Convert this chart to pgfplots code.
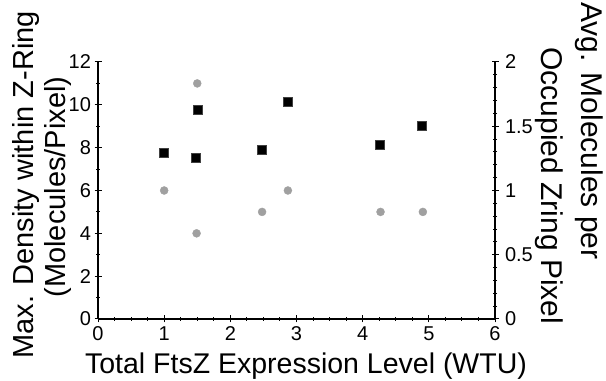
\documentclass[border=0pt]{standalone}
\usepackage{pgfplots}
\pgfplotsset{compat=1.18}
\usepackage{fontspec}
\setmainfont{Liberation Sans}
\definecolor{grayc}{RGB}{160,160,160}
\begin{document}
\begin{tikzpicture}
\useasboundingbox (0,0) rectangle (606bp,381bp);
\pgfplotsset{
 common/.style={
   at={(98bp,62bp)}, anchor=south west,
   width=397bp, height=257bp, scale only axis,
   xmin=0, xmax=6,
   tick label style={font=\fontsize{20bp}{23bp}\selectfont},
   /pgf/number format/assume math mode=true,
   major tick length=7bp, minor tick length=4bp,
   every tick/.style={black, line width=1bp},
   clip=false,
 },
 noarrows/.style={
   axis line style={line width=2bp, -},
   every outer x axis line/.append style={-},
   every outer y axis line/.append style={-},
   every inner x axis line/.append style={-},
   every inner y axis line/.append style={-},
 }
}
\begin{axis}[common, axis x line=bottom, axis y line=left, noarrows,
  ymin=0, ymax=12, xtick={0,1,2,3,4,5,6}, minor x tick num=3,
  ytick={0,2,4,6,8,10,12}, minor y tick num=1,
  xticklabel style={yshift=-1bp}]
\addplot[only marks, mark=*, mark size=4bp, color=grayc] coordinates {
 (1.0,6) (1.5,11) (1.49,4) (2.48,5) (2.87,6) (4.27,5) (4.91,5)};
\end{axis}
\begin{axis}[common, axis x line=none, axis y line=right, noarrows,
  ymin=0, ymax=2, ytick={0,0.5,1,1.5,2}, minor y tick num=4,
  yticklabel style={xshift=3bp}]
\addplot[only marks, mark=square*, mark size=4.5bp, black, mark options={draw=black!75, line width=0.6bp}] coordinates {
 (0.99,1.293) (1.48,1.255) (1.507,1.627) (2.48,1.32) (2.87,1.693) (4.26,1.355) (4.90,1.507)};
\end{axis}
\node[rotate=90, anchor=base, font=\fontsize{29bp}{34bp}\selectfont] at (33bp,196bp) {Max. Density within Z-Ring};
\node[rotate=90, anchor=base, font=\fontsize{29bp}{34bp}\selectfont] at (65bp,194bp) {(Molecules/Pixel)};
\node[rotate=-90, anchor=base, font=\fontsize{30bp}{34bp}\selectfont] at (581bp,250bp) {Avg. Molecules per};
\node[rotate=-90, anchor=base, font=\fontsize{30bp}{34bp}\selectfont] at (541bp,195bp) {Occupied Zring Pixel};
\node[anchor=base, font=\fontsize{28.5bp}{34bp}\selectfont] at (306bp,8bp) {Total FtsZ Expression Level (WTU)};
\end{tikzpicture}
\end{document}
